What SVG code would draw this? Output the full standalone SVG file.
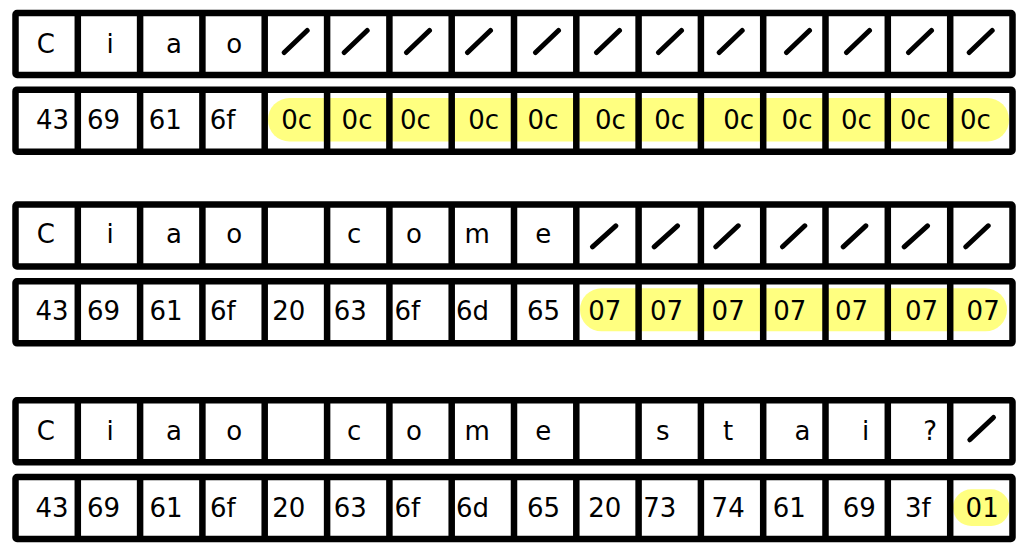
<svg xmlns="http://www.w3.org/2000/svg" xmlns:xlink="http://www.w3.org/1999/xlink" width="1027" height="556" viewBox="0 0 1027 556">
<style>
.frame{fill:none;stroke:#000;stroke-width:6.5;stroke-linejoin:round}
.t{font-family:"DejaVu Sans",sans-serif;font-size:26px;fill:#000}
.hl{fill:#ffff80}
.sl{fill:none;stroke:#000;stroke-width:5;stroke-linecap:round}
</style>
<defs>
<g id="grid">
<rect class="frame" x="15.5" y="0" width="997" height="62" rx="1.5"/>
<path class="frame" d="M77.8 0V62M140.1 0V62M202.4 0V62M264.7 0V62M327.1 0V62M389.4 0V62M451.7 0V62M514 0V62M576.3 0V62M638.6 0V62M700.9 0V62M763.2 0V62M825.5 0V62M887.8 0V62M950.2 0V62"/>
</g>
</defs>
<rect width="1027" height="556" fill="#fff"/>

<g id="row1">
<use xlink:href="#grid" y="13"/>
<text class="t" y="52.7"><tspan x="36.8">C</tspan><tspan x="106.6">i</tspan><tspan x="166.1">a</tspan><tspan x="226.3">o</tspan></text>
<path class="sl" d="M284.2 52.5L307.2 30.5M344.2 52.5L367.2 30.5M406.5 52.5L429.5 30.5M467.5 52.5L490.5 30.5M535.5 52.5L558.5 30.5M596.5 52.5L619.5 30.5M658.5 52.5L681.5 30.5M719.2 52.5L742.2 30.5M786.5 52.5L809.5 30.5M846.5 52.5L869.5 30.5M908.5 52.5L931.5 30.5M969.2 52.5L992.2 30.5"/>
</g>

<g id="row2">
<rect class="hl" x="268" y="98" width="741" height="43.5" rx="21.5"/>
<use xlink:href="#grid" y="89.7"/>
<text class="t" y="129.3"><tspan x="36">43</tspan><tspan x="86.9">69</tspan><tspan x="148.8">61</tspan><tspan x="209.8">6f</tspan><tspan x="281.3">0c</tspan><tspan x="341.6">0c</tspan><tspan x="400">0c</tspan><tspan x="468.3">0c</tspan><tspan x="527.6">0c</tspan><tspan x="595">0c</tspan><tspan x="654.3">0c</tspan><tspan x="723.3">0c</tspan><tspan x="781.6">0c</tspan><tspan x="841">0c</tspan><tspan x="900">0c</tspan><tspan x="960">0c</tspan></text>
</g>

<g id="row3">
<use xlink:href="#grid" y="204.5"/>
<text class="t" y="243.3"><tspan x="36.8">C</tspan><tspan x="106.6">i</tspan><tspan x="166.1">a</tspan><tspan x="226.3">o</tspan><tspan x="346.9">c</tspan><tspan x="405.9">o</tspan><tspan x="464.4">m</tspan><tspan x="535.3">e</tspan></text>
<path class="sl" d="M592.5 246.8L615.8 225.8M654.2 246.8L677.5 225.8M715.8 246.8L738.2 225.8M782.5 246.8L804.8 225.8M843.2 246.8L865.8 225.8M904.2 246.8L927.5 225.8M965.8 246.8L988.2 225.8"/>
</g>

<g id="row4">
<rect class="hl" x="580" y="288.3" width="427" height="43" rx="21.5"/>
<use xlink:href="#grid" y="281.3"/>
<text class="t" y="320"><tspan x="35.4">43</tspan><tspan x="87">69</tspan><tspan x="149.4">61</tspan><tspan x="210">6f</tspan><tspan x="272.2">20</tspan><tspan x="333.7">63</tspan><tspan x="394.4">6f</tspan><tspan x="456">6d</tspan><tspan x="527">65</tspan><tspan x="588.3">07</tspan><tspan x="650">07</tspan><tspan x="711.6">07</tspan><tspan x="773.3">07</tspan><tspan x="835">07</tspan><tspan x="905">07</tspan><tspan x="966.6">07</tspan></text>
</g>

<g id="row5">
<use xlink:href="#grid" y="400.3"/>
<text class="t" y="440"><tspan x="36.8">C</tspan><tspan x="106.6">i</tspan><tspan x="166.1">a</tspan><tspan x="226.3">o</tspan><tspan x="346.9">c</tspan><tspan x="405.9">o</tspan><tspan x="464.4">m</tspan><tspan x="535.3">e</tspan><tspan x="655.9">s</tspan><tspan x="723">t</tspan><tspan x="794.4">a</tspan><tspan x="861.9">i</tspan><tspan x="923.2">?</tspan></text>
<path class="sl" d="M969.8 439.8L993.5 417.5"/>
</g>

<g id="row6">
<rect class="hl" x="953" y="489.3" width="56.5" height="36.7" rx="18.3"/>
<use xlink:href="#grid" y="477"/>
<text class="t" y="516.7"><tspan x="35.4">43</tspan><tspan x="87">69</tspan><tspan x="149.4">61</tspan><tspan x="210">6f</tspan><tspan x="272.2">20</tspan><tspan x="333.7">63</tspan><tspan x="394.4">6f</tspan><tspan x="456">6d</tspan><tspan x="527">65</tspan><tspan x="588.2">20</tspan><tspan x="643.3">73</tspan><tspan x="711.6">74</tspan><tspan x="772.7">61</tspan><tspan x="842.7">69</tspan><tspan x="905">3f</tspan><tspan x="965.6">01</tspan></text>
</g>
</svg>
